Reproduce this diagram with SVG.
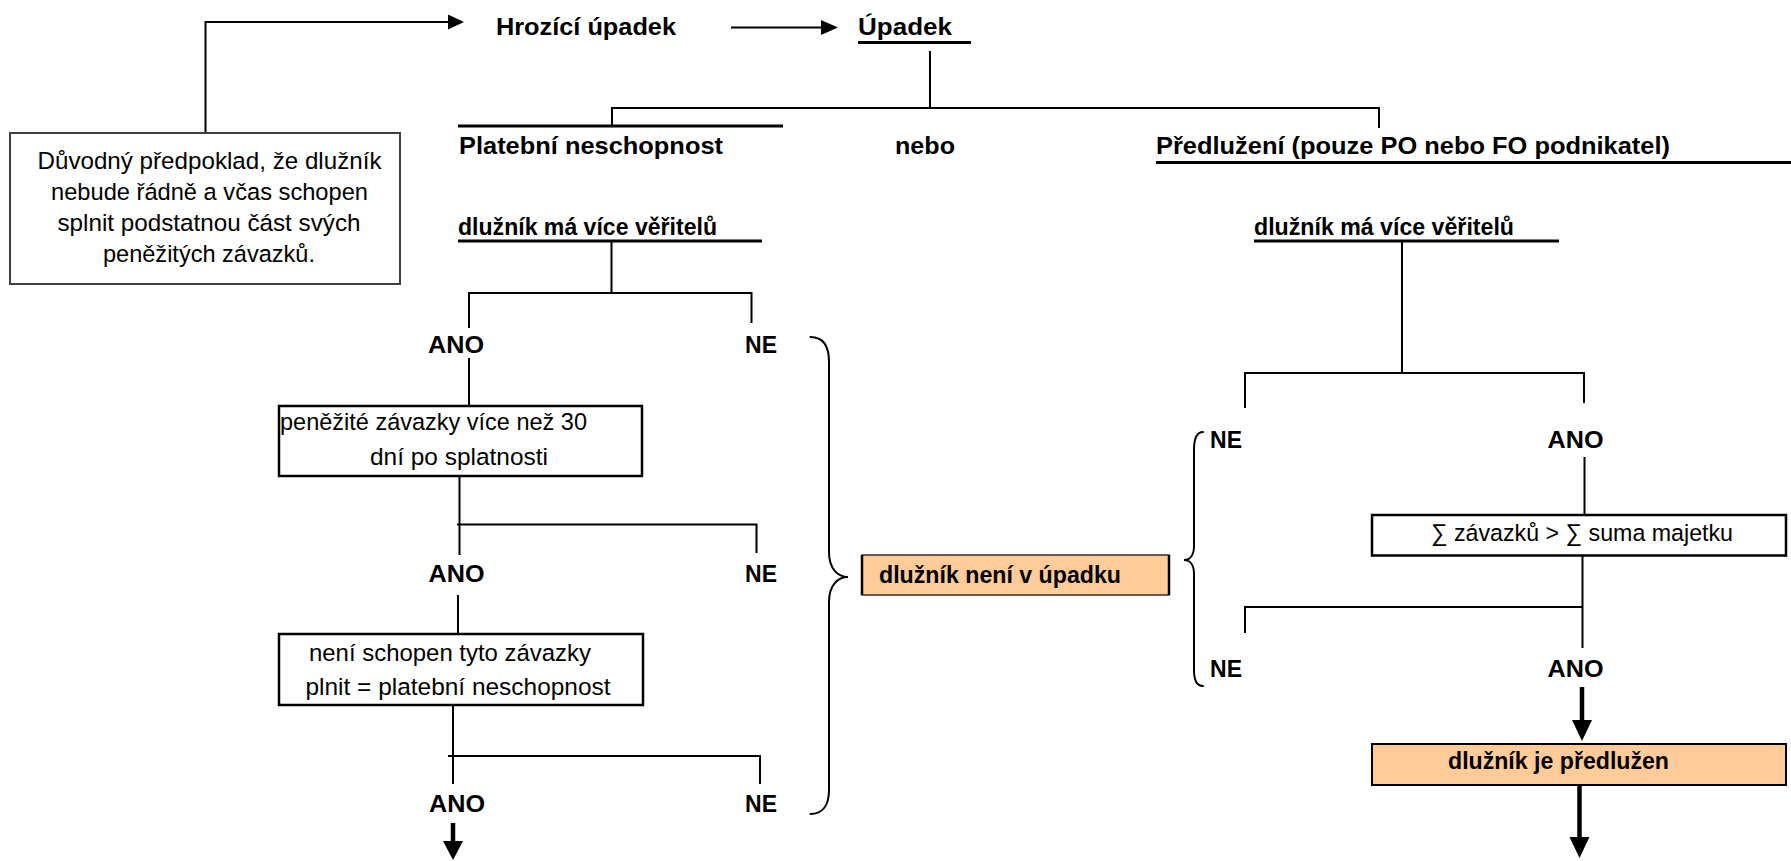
<svg xmlns="http://www.w3.org/2000/svg" width="1791" height="861" viewBox="0 0 1791 861">
  <defs>
    <style>
      .b { font-family: "Liberation Sans", Arial, sans-serif; font-weight: bold; font-size: 24.5px; fill: #000; }
      .r { font-family: "Liberation Sans", Arial, sans-serif; font-size: 24.5px; fill: #000; }
      .ln { stroke: #000; stroke-width: 2; fill: none; }
      .ul { stroke: #000; stroke-width: 3; fill: none; }
      .thick { stroke: #000; stroke-width: 4.5; fill: none; }
      .brace { stroke: #000; stroke-width: 2; fill: none; stroke-linecap: round; }
      .box { fill: #fff; stroke: #000; stroke-width: 2.5; }
      .note { fill: #fff; stroke: #404040; stroke-width: 2; }
      .hl { fill: #FFCC99; stroke: #000; stroke-width: 2; }
    </style>
  </defs>
  <rect width="1791" height="861" fill="#fff"/>

  <!-- connectors -->
  <g id="connectors">
    <!-- note box to "Hrozící úpadek" -->
    <polyline class="ln" points="205.5,133 205.5,22 450,22"/>
    <polygon points="448,14.5 464,22 448,29.5" fill="#000"/>
    <!-- "Hrozící úpadek" to "Úpadek" -->
    <line class="ln" x1="731" y1="27.5" x2="823" y2="27.5"/>
    <polygon points="821,20 838,27.5 821,35" fill="#000"/>
    <!-- Úpadek split -->
    <line class="ln" x1="930" y1="51" x2="930" y2="108"/>
    <polyline class="ln" points="612,126 612,108 1379,108 1379,128"/>

    <!-- left tree -->
    <line class="ln" x1="611.5" y1="241" x2="611.5" y2="293"/>
    <polyline class="ln" points="469,328 469,293 751.5,293 751.5,323"/>
    <line class="ln" x1="469" y1="358" x2="469" y2="406"/>
    <line class="ln" x1="459.5" y1="470" x2="459.5" y2="555"/>
    <polyline class="ln" points="457,524.5 756.5,524.5 756.5,553"/>
    <line class="ln" x1="458" y1="595" x2="458" y2="634"/>
    <line class="ln" x1="453" y1="705" x2="453" y2="784"/>
    <polyline class="ln" points="448,756 760,756 760,784"/>
    <line class="thick" x1="453" y1="823" x2="453" y2="843"/>
    <polygon points="443,841 463,841 453,860" fill="#000"/>

    <!-- right tree -->
    <line class="ln" x1="1402" y1="241" x2="1402" y2="373"/>
    <polyline class="ln" points="1245,408 1245,373 1584,373 1584,403"/>
    <line class="ln" x1="1584.5" y1="457" x2="1584.5" y2="515"/>
    <line class="ln" x1="1582.5" y1="555" x2="1582.5" y2="648"/>
    <polyline class="ln" points="1245,633 1245,607 1582.5,607"/>
    <line class="thick" x1="1582" y1="687" x2="1582" y2="722"/>
    <polygon points="1572,720 1592,720 1582,741" fill="#000"/>
    <line class="thick" x1="1579.5" y1="785" x2="1579.5" y2="839"/>
    <polygon points="1569.5,837 1589.5,837 1579.5,858" fill="#000"/>

    <!-- braces -->
    <path class="brace" d="M810.5,337 C822,337 829,345 829,362 L829,552 C829,569 838,577 848,577 C838,577 829,585 829,602 L829,790 C829,806 822,814 810.5,814"/>
    <path class="brace" d="M1203,432 C1197,432 1194,438 1194,450 L1194,546 C1194,555 1190,560 1184,560 C1190,560 1194,565 1194,574 L1194,670 C1194,680 1197,686 1203,686"/>
  </g>

  <!-- top row -->
  <g id="hrozici-upadek">
    <text class="b" x="496" y="35" textLength="180" lengthAdjust="spacingAndGlyphs">Hrozící úpadek</text>
  </g>
  <g id="upadek">
    <text class="b" x="858" y="35" textLength="94" lengthAdjust="spacingAndGlyphs">Úpadek</text>
    <line class="ul" x1="858" y1="42.5" x2="971" y2="42.5"/>
  </g>

  <g id="duvodny-predpoklad">
    <rect class="note" x="10" y="133" width="390" height="151"/>
    <text class="r" x="37.5" y="169" textLength="344" lengthAdjust="spacingAndGlyphs">Důvodný předpoklad, že dlužník</text>
    <text class="r" x="51" y="200" textLength="317" lengthAdjust="spacingAndGlyphs">nebude řádně a včas schopen</text>
    <text class="r" x="57.5" y="231" textLength="303" lengthAdjust="spacingAndGlyphs">splnit podstatnou část svých</text>
    <text class="r" x="103" y="262" textLength="212" lengthAdjust="spacingAndGlyphs">peněžitých závazků.</text>
  </g>

  <!-- second row -->
  <g id="platebni-neschopnost">
    <line class="ul" x1="458" y1="126" x2="783" y2="126"/>
    <text class="b" x="459" y="154" textLength="264" lengthAdjust="spacingAndGlyphs">Platební neschopnost</text>
  </g>
  <g id="nebo">
    <text class="b" x="895" y="154" textLength="60" lengthAdjust="spacingAndGlyphs">nebo</text>
  </g>
  <g id="predluzeni">
    <text class="b" x="1156" y="154" textLength="514" lengthAdjust="spacingAndGlyphs">Předlužení (pouze PO nebo FO podnikatel)</text>
    <line class="ul" x1="1156" y1="162.5" x2="1791" y2="162.5"/>
  </g>

  <!-- left branch -->
  <g id="vice-veritelu-l">
    <text class="b" x="458" y="235" textLength="259" lengthAdjust="spacingAndGlyphs">dlužník má více věřitelů</text>
    <line class="ul" x1="458" y1="241" x2="762" y2="241"/>
  </g>
  <g id="ano-l1"><text class="b" x="428" y="353" textLength="56" lengthAdjust="spacingAndGlyphs">ANO</text></g>
  <g id="ne-l1"><text class="b" x="745" y="353" textLength="32" lengthAdjust="spacingAndGlyphs">NE</text></g>
  <g id="zavazky-30-dni">
    <rect class="box" x="279" y="406" width="363" height="70"/>
    <text class="r" x="280" y="430" textLength="307" lengthAdjust="spacingAndGlyphs">peněžité závazky více než 30</text>
    <text class="r" x="370" y="465" textLength="178" lengthAdjust="spacingAndGlyphs">dní po splatnosti</text>
  </g>
  <g id="ano-l2"><text class="b" x="428.5" y="582" textLength="56" lengthAdjust="spacingAndGlyphs">ANO</text></g>
  <g id="ne-l2"><text class="b" x="745" y="582" textLength="32" lengthAdjust="spacingAndGlyphs">NE</text></g>
  <g id="neni-schopen">
    <rect class="box" x="279" y="634" width="364" height="71"/>
    <text class="r" x="309" y="661" textLength="282" lengthAdjust="spacingAndGlyphs">není schopen tyto závazky</text>
    <text class="r" x="305.5" y="695" textLength="305" lengthAdjust="spacingAndGlyphs">plnit = platební neschopnost</text>
  </g>
  <g id="ano-l3"><text class="b" x="429" y="812" textLength="56" lengthAdjust="spacingAndGlyphs">ANO</text></g>
  <g id="ne-l3"><text class="b" x="745" y="812" textLength="32" lengthAdjust="spacingAndGlyphs">NE</text></g>

  <!-- result in the middle -->
  <g id="neni-v-upadku">
    <rect x="862" y="555" width="307" height="40" fill="#FFCC99" stroke="#000" stroke-width="1.2"/>
    <line x1="862" y1="555" x2="862" y2="595" stroke="#000" stroke-width="2.5"/>
    <line x1="1169" y1="555" x2="1169" y2="595" stroke="#000" stroke-width="2.5"/>
    <text class="b" x="879" y="583" textLength="242" lengthAdjust="spacingAndGlyphs">dlužník není v úpadku</text>
  </g>

  <!-- right branch -->
  <g id="vice-veritelu-r">
    <text class="b" x="1254" y="235" textLength="260" lengthAdjust="spacingAndGlyphs">dlužník má více věřitelů</text>
    <line class="ul" x1="1254" y1="241" x2="1559" y2="241"/>
  </g>
  <g id="ne-r1"><text class="b" x="1210" y="448" textLength="32" lengthAdjust="spacingAndGlyphs">NE</text></g>
  <g id="ano-r1"><text class="b" x="1547.5" y="448" textLength="56" lengthAdjust="spacingAndGlyphs">ANO</text></g>
  <g id="suma-zavazku">
    <rect class="box" x="1372" y="515" width="414" height="40.5"/>
    <text class="r" x="1431" y="541" textLength="302" lengthAdjust="spacingAndGlyphs">∑ závazků &gt; ∑ suma majetku</text>
  </g>
  <g id="ne-r2"><text class="b" x="1210" y="677" textLength="32" lengthAdjust="spacingAndGlyphs">NE</text></g>
  <g id="ano-r2"><text class="b" x="1547.5" y="677" textLength="56" lengthAdjust="spacingAndGlyphs">ANO</text></g>
  <g id="je-predluzen">
    <rect class="hl" x="1372" y="744" width="414" height="41"/>
    <text class="b" x="1448" y="769" textLength="221" lengthAdjust="spacingAndGlyphs">dlužník je předlužen</text>
  </g>
</svg>
